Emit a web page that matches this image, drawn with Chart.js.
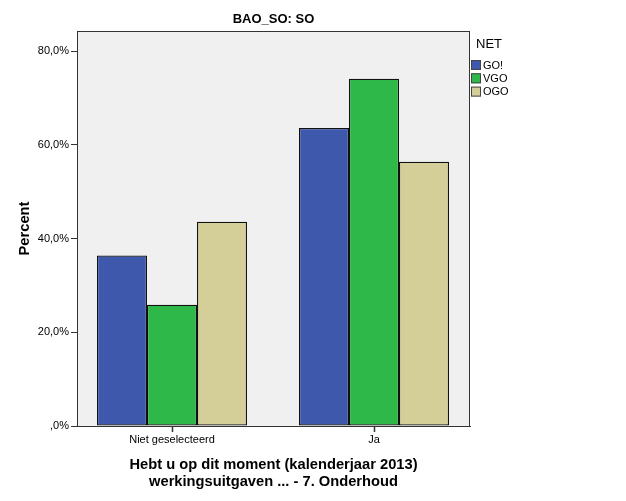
<!DOCTYPE html>
<html>
<head>
<meta charset="utf-8">
<script src="https://cdn.jsdelivr.net/npm/chart.js@4.4.1/dist/chart.umd.min.js"></script>
<style>
  html, body { margin: 0; padding: 0; background: #fff; }
  #wrap { width: 626px; height: 501px; }
</style>
</head>
<body>
<div id="wrap"><canvas id="chart"></canvas></div>
<script>
// data
const categories = ["Niet geselecteerd", "Ja"];
const seriesNames = ["GO!", "VGO", "OGO"];
const goValues = [36.4, 63.6];
const vgoValues = [25.9, 74.1];
const ogoValues = [43.6, 56.4];
const yTickValues = [0, 20, 40, 60, 80];
const yTickLabels = [",0%", "20,0%", "40,0%", "60,0%", "80,0%"];

const colors = ["#3e58ac", "#2fb84a", "#d4cf98"];
const FONT = "'Liberation Sans', Arial, sans-serif";

// achtergrond en kader van het plotgebied
const framePlugin = {
  id: "frame",
  beforeDraw(chart) {
    const a = chart.chartArea, ctx = chart.ctx;
    ctx.save();
    ctx.fillStyle = "#f0f0f0";
    ctx.fillRect(a.left, a.top, a.right - a.left, a.bottom - a.top);
    ctx.restore();
  },
  afterDraw(chart) {
    const a = chart.chartArea, ctx = chart.ctx;
    ctx.save();
    ctx.strokeStyle = "#333";
    ctx.lineWidth = 1;
    ctx.strokeRect(a.left + 0.5, a.top + 0.5, a.right - a.left - 1, a.bottom - a.top);
    ctx.restore();
  }
};

// legenda rechts naast het plotgebied
const legendPlugin = {
  id: "netLegend",
  afterDraw(chart) {
    const ctx = chart.ctx, a = chart.chartArea;
    const x = a.right + 1;
    ctx.save();
    ctx.fillStyle = "#000";
    ctx.textBaseline = "middle";
    ctx.font = "13px " + FONT;
    ctx.fillText("NET", x + 5, 44);
    ctx.font = "11px " + FONT;
    chart.data.datasets.forEach((ds, i) => {
      const y = 60 + i * 13.3;
      ctx.fillStyle = ds.backgroundColor;
      ctx.fillRect(x, y, 10, 10);
      ctx.strokeStyle = "#444";
      ctx.strokeRect(x + 0.5, y + 0.5, 9, 9);
      ctx.fillStyle = "#000";
      ctx.fillText(ds.label, x + 12, y + 5.5);
    });
    ctx.restore();
  }
};

// categorieen als posities 0 en 1 op een lineaire as
const datasets = [goValues, vgoValues, ogoValues].map((vals, i) => ({
  label: seriesNames[i],
  data: vals.map((v, j) => ({ x: j, y: v })),
  backgroundColor: colors[i],
  borderColor: "#111",
  borderWidth: 1.3,
  borderSkipped: false,
  categoryPercentage: 0.7426,
  barPercentage: 1.0
}));

new Chart(document.getElementById("chart"), {
  type: "bar",
  data: { datasets: datasets },
  plugins: [framePlugin, legendPlugin],
  options: {
    responsive: true,
    maintainAspectRatio: false,
    animation: false,
    devicePixelRatio: 1,
    layout: { padding: { left: 0, right: 156, top: 0, bottom: 0 } },
    plugins: {
      legend: { display: false },
      tooltip: { enabled: false },
      title: {
        display: true,
        text: "BAO_SO: SO",
        fullSize: false,
        color: "#000",
        font: { family: FONT, size: 13, weight: "bold", lineHeight: 1.2 },
        padding: { top: 12, bottom: 3.4 }
      }
    },
    scales: {
      x: {
        type: "linear",
        min: -0.4703,
        max: 1.4752,
        offset: false,
        afterFit(scale) { scale.height = 75; },
        afterBuildTicks(scale) { scale.ticks = categories.map((c, i) => ({ value: i })); },
        grid: { display: true, offset: false, drawOnChartArea: false, drawTicks: true, tickLength: 6, color: "#333", tickColor: "#333", tickWidth: 1.5 },
        border: { display: true, color: "#333" },
        ticks: {
          color: "#000",
          font: { family: FONT, size: 11 },
          padding: 1,
          maxRotation: 0,
          includeBounds: false,
          callback: (v) => categories[v]
        },
        title: {
          display: true,
          text: ["Hebt u op dit moment (kalenderjaar 2013)", "werkingsuitgaven ... - 7. Onderhoud"],
          color: "#000",
          font: { family: FONT, size: 14.7, weight: "bold", lineHeight: 1.13 },
          padding: { top: 0, bottom: 11 }
        }
      },
      y: {
        min: 0,
        max: 84.3,
        afterFit(scale) { scale.width = 77; },
        afterBuildTicks(scale) { scale.ticks = yTickValues.map(v => ({ value: v })); },
        grid: { display: true, drawOnChartArea: false, drawTicks: true, tickLength: 6, color: "#333" },
        border: { display: true, color: "#333" },
        ticks: {
          color: "#000",
          font: { family: FONT, size: 11 },
          padding: 2,
          includeBounds: false,
          callback: (v) => yTickLabels[yTickValues.indexOf(v)]
        },
        title: {
          display: true,
          text: "Percent",
          color: "#000",
          font: { family: FONT, size: 14.7, weight: "bold", lineHeight: 1.2 },
          padding: { top: 16, bottom: 0 }
        }
      }
    }
  }
});
</script>
</body>
</html>
